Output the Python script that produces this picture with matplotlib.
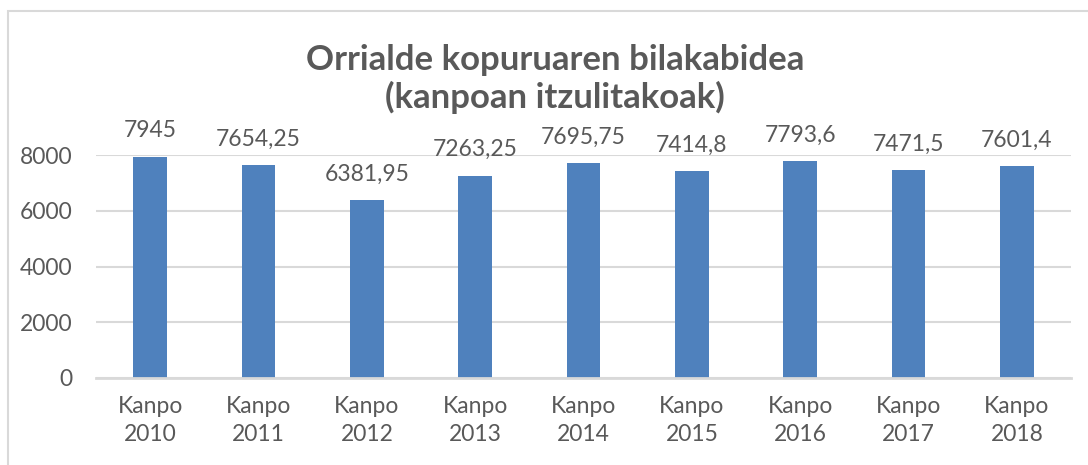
import matplotlib.pyplot as plt
from matplotlib.patches import Rectangle

# data
years = ['2010', '2011', '2012', '2013', '2014', '2015', '2016', '2017', '2018']
values = [7945, 7654.25, 6381.95, 7263.25, 7695.75, 7414.8, 7793.6, 7471.5, 7601.4]
value_labels = ['7945', '7654,25', '6381,95', '7263,25', '7695,75',
                '7414,8', '7793,6', '7471,5', '7601,4']
yticks = [0, 2000, 4000, 6000, 8000]

plt.rcParams['font.family'] = ['Lato', 'DejaVu Sans']
txt = '#595959'
grid = '#D9D9D9'

fig = plt.figure(figsize=(10.88, 4.65), dpi=100)
ax = fig.add_axes([96 / 1088, 1 - 378 / 465, (1071 - 96) / 1088, (378 - 155) / 465])

cats = ['Kanpo\n' + y for y in years]
x = range(len(cats))
bars = ax.bar(x, values, width=0.31, color='#4F81BD', zorder=3)

for b, lab in zip(bars, value_labels):
    ax.annotate(lab, (b.get_x() + b.get_width() / 2, b.get_height()),
                xytext=(0, 11), textcoords='offset points', ha='center', va='bottom',
                fontsize=16.5, color=txt, annotation_clip=False)

ax.set_xlim(-0.5, len(cats) - 0.5)
ax.set_ylim(0, 8000)
ax.set_yticks(yticks)
ax.set_xticks(list(x))
ax.set_xticklabels(cats, fontsize=16.5, color=txt, linespacing=1.4)
ax.tick_params(axis='y', labelsize=16.5, labelcolor=txt, length=0, pad=17)
ax.tick_params(axis='x', length=0, pad=13)
ax.yaxis.grid(True, color=grid, linewidth=1.5, zorder=0)
for s in ['top', 'right', 'left']:
    ax.spines[s].set_visible(False)
ax.spines['bottom'].set_color(grid)
ax.spines['bottom'].set_linewidth(2)
ax.spines['bottom'].set_zorder(4)

fig.text(555 / 1088, 1 - 79 / 465, 'Orrialde kopuruaren bilakabidea\n(kanpoan itzulitakoak)',
         ha='center', va='center', fontsize=25, fontweight='bold', color=txt, linespacing=1.2)

# chart border
fig.patches.append(Rectangle((8 / 1088, -0.1), 1.2, 1 - 11 / 465 + 0.1,
                             transform=fig.transFigure, fill=False,
                             edgecolor=grid, linewidth=1.5))

fig.savefig('out.png', dpi=100)
